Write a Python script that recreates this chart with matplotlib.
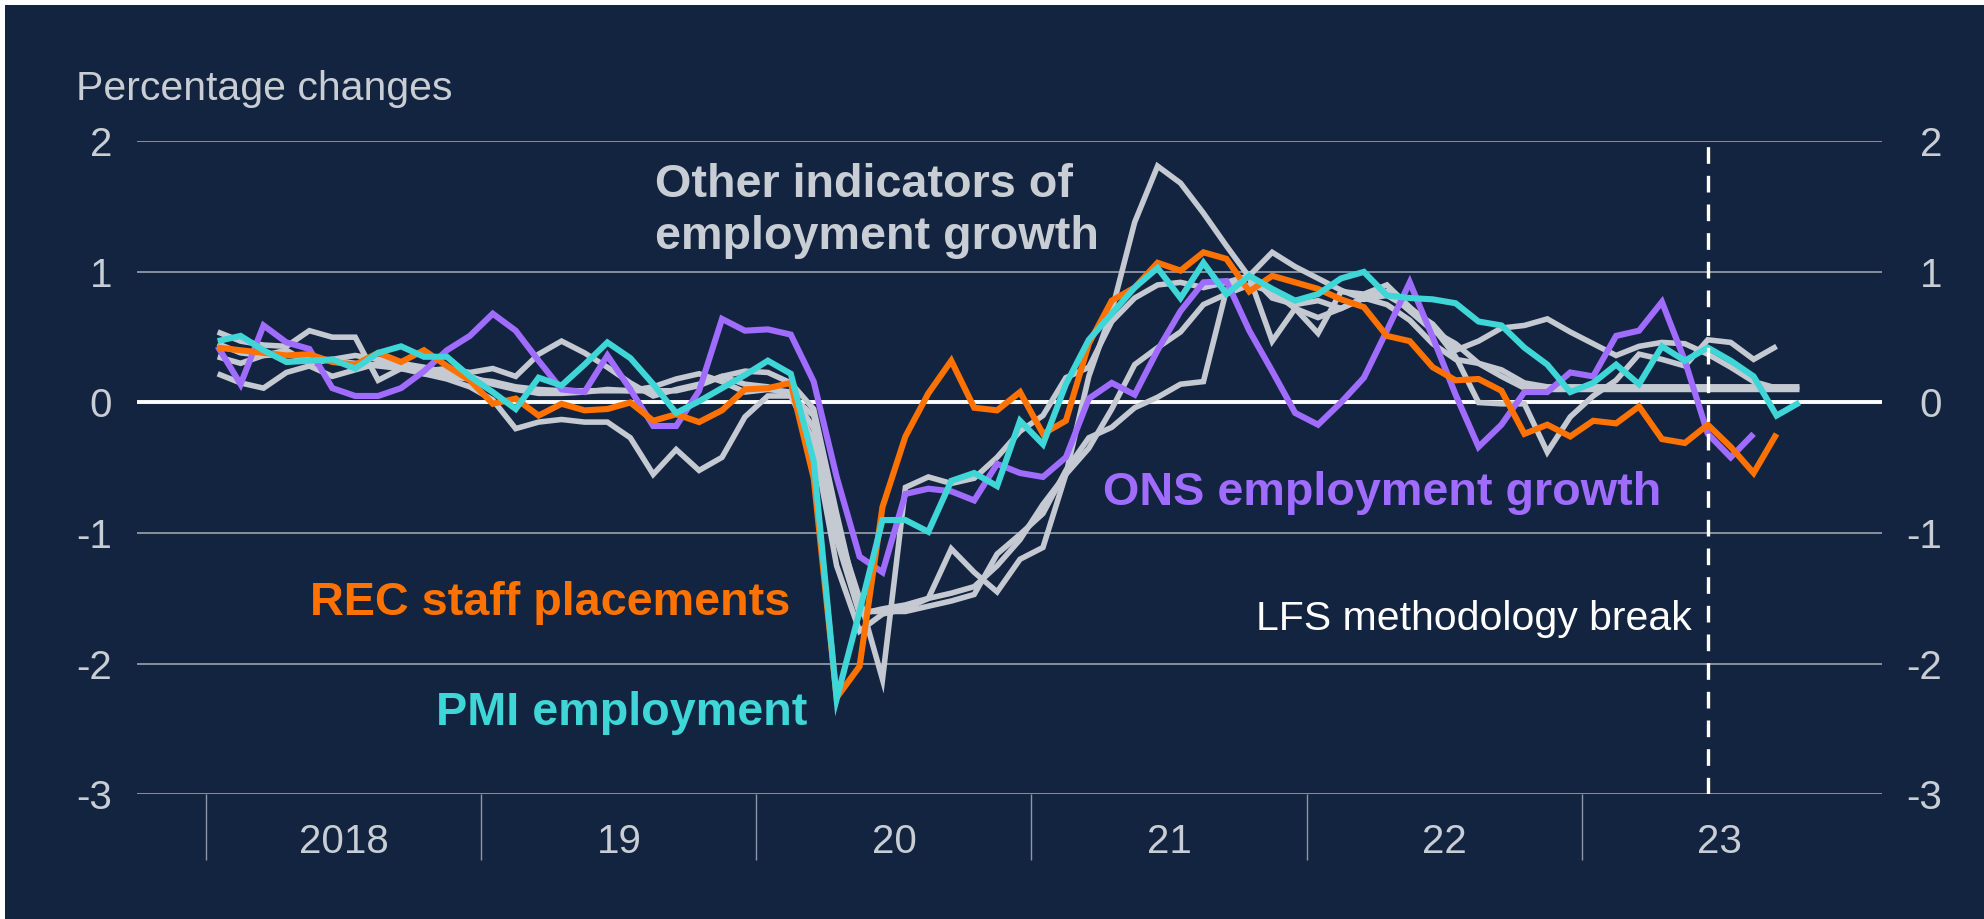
import numpy as np
import pandas as pd
import matplotlib
matplotlib.use("Agg")
import matplotlib.pyplot as plt
from matplotlib.patches import Rectangle

plt.rcParams['font.family'] = ['Liberation Sans', 'DejaVu Sans']

# ---------------- data ----------------
months = pd.period_range('2018-01', '2023-10', freq='M')
nan = np.nan

rec_staff_placements = [
    0.42, 0.40, 0.38, 0.36, 0.37, 0.31, 0.29, 0.38, 0.31, 0.40, 0.28, 0.17,
    -0.01, 0.03, -0.10, -0.01, -0.06, -0.05, 0.00, -0.14, -0.09, -0.15, -0.06, 0.10,
    0.11, 0.15, -0.58, -2.26, -2.02, -0.80, -0.26, 0.07, 0.32, -0.04, -0.06, 0.08,
    -0.24, -0.14, 0.45, 0.78, 0.88, 1.07, 1.01, 1.15, 1.10, 0.85, 0.97, 0.92,
    0.87, 0.79, 0.73, 0.51, 0.47, 0.27, 0.17, 0.18, 0.09, -0.24, -0.17, -0.26,
    -0.14, -0.16, -0.03, -0.28, -0.31, -0.17, -0.34, -0.54, -0.24, nan]

pmi_employment = [
    0.47, 0.51, 0.40, 0.31, 0.32, 0.33, 0.26, 0.38, 0.43, 0.35, 0.35, 0.20,
    0.08, -0.05, 0.19, 0.13, 0.29, 0.46, 0.34, 0.14, -0.08, 0.01, 0.11, 0.21,
    0.32, 0.22, -0.45, -2.27, -1.60, -0.90, -0.90, -0.99, -0.60, -0.54, -0.64, -0.14,
    -0.32, 0.14, 0.48, 0.68, 0.88, 1.03, 0.80, 1.07, 0.83, 0.97, 0.87, 0.78,
    0.83, 0.95, 1.00, 0.82, 0.80, 0.79, 0.76, 0.62, 0.59, 0.42, 0.29, 0.08,
    0.15, 0.29, 0.14, 0.43, 0.32, 0.42, 0.32, 0.20, -0.10, 0.00]

ons_employment_growth = [
    0.43, 0.14, 0.59, 0.46, 0.41, 0.11, 0.05, 0.05, 0.11, 0.24, 0.40, 0.51,
    0.68, 0.55, 0.32, 0.10, 0.08, 0.36, 0.10, -0.18, -0.18, 0.09, 0.64, 0.55,
    0.56, 0.52, 0.16, -0.57, -1.18, -1.30, -0.70, -0.66, -0.68, -0.75, -0.47, -0.54,
    -0.57, -0.42, 0.03, 0.15, 0.06, 0.40, 0.70, 0.92, 0.93, 0.55, 0.24, -0.08,
    -0.17, 0.00, 0.19, 0.55, 0.92, 0.50, 0.06, -0.34, -0.17, 0.08, 0.08, 0.23,
    0.20, 0.51, 0.55, 0.77, 0.32, -0.24, -0.42, -0.24, nan, nan]

other_indicator_1 = [
    0.54, 0.47, 0.44, 0.43, 0.55, 0.50, 0.50, 0.17, 0.26, 0.24, 0.26, 0.23,
    0.26, 0.20, 0.37, 0.47, 0.38, 0.27, 0.15, 0.05, 0.10, 0.14, 0.20, 0.14,
    0.12, 0.05, -0.30, -1.25, -1.75, -1.62, -1.58, -1.50, -1.12, -1.30, -1.45, -1.20,
    -1.11, -0.55, 0.20, 0.70, 1.38, 1.81, 1.68, 1.45, 1.20, 0.96, 0.47, 0.72,
    0.53, 0.85, 0.83, 0.90, 0.73, 0.58, 0.35, 0.00, -0.01, -0.01, -0.38, -0.11,
    0.05, 0.17, 0.37, 0.33, 0.28, 0.48, 0.46, 0.33, 0.43, nan]

other_indicator_2 = [
    0.45, 0.38, 0.36, 0.37, 0.33, 0.32, 0.30, 0.28, 0.26, 0.22, 0.20, 0.18,
    0.16, 0.12, 0.10, 0.09, 0.09, 0.09, 0.09, 0.09, 0.09, 0.13, 0.20, 0.24,
    0.23, 0.15, -0.05, -0.85, -1.60, -1.60, -1.60, -1.56, -1.52, -1.47, -1.16, -1.01,
    -0.85, -0.52, -0.27, -0.19, -0.04, 0.04, 0.14, 0.16, 0.86, 0.98, 0.80, 0.75,
    0.78, 0.72, 0.80, 0.85, 0.70, 0.55, 0.45, 0.30, 0.20, 0.11, 0.10, 0.10,
    0.10, 0.10, 0.10, 0.10, 0.10, 0.10, 0.10, 0.10, 0.10, 0.10]

other_indicator_3 = [
    0.22, 0.15, 0.11, 0.23, 0.28, 0.20, 0.25, 0.30, 0.27, 0.22, 0.18, 0.12,
    0.02, -0.20, -0.15, -0.13, -0.15, -0.15, -0.27, -0.55, -0.36, -0.52, -0.42, -0.11,
    0.05, 0.05, -0.10, -0.95, -1.50, -2.12, -0.65, -0.57, -0.62, -0.58, -0.42, -0.22,
    -0.10, 0.19, 0.27, 0.62, 0.80, 0.90, 0.92, 0.88, 0.92, 0.97, 1.15, 1.04,
    0.95, 0.86, 0.79, 0.82, 0.72, 0.60, 0.40, 0.47, 0.57, 0.59, 0.64, 0.54,
    0.45, 0.36, 0.43, 0.46, 0.45, 0.37, 0.27, 0.16, 0.11, nan]

other_indicator_4 = [
    0.35, 0.30, 0.36, 0.40, 0.30, 0.33, 0.36, 0.33, 0.30, 0.27, 0.23, 0.20,
    0.14, 0.10, 0.07, 0.07, 0.08, 0.10, 0.09, 0.12, 0.18, 0.22, 0.16, 0.08,
    0.10, 0.08, -0.20, -1.05, -1.62, -1.58, -1.55, -1.50, -1.46, -1.41, -1.25, -1.05,
    -0.78, -0.55, -0.35, -0.05, 0.29, 0.42, 0.54, 0.75, 0.83, 0.90, 0.85, 0.72,
    0.65, 0.72, 0.80, 0.75, 0.63, 0.45, 0.33, 0.30, 0.25, 0.15, 0.12, 0.12,
    0.12, 0.12, 0.12, 0.12, 0.12, 0.12, 0.12, 0.12, 0.12, 0.12]

year_ticks = [2018, 2019, 2020, 2021, 2022, 2023]
year_labels = ['2018', '19', '20', '21', '22', '23']
y_ticks = [-3, -2, -1, 0, 1, 2]
y_labels = ['-3', '-2', '-1', '0', '1', '2']
lfs_break = pd.Period('2023-06', freq='M')

# ---------------- style ----------------
NAVY = '#132441'
GRAY = '#c5cad2'
GRAY_TXT = '#c9cdd4'
GRID = '#a7aeb9'
ORANGE = '#ff7200'
CYAN = '#3ed6d6'
PURPLE = '#a06cff'

W, H = 1984, 919
fig = plt.figure(figsize=(W / 100, H / 100), dpi=100)
fig.patch.set_facecolor('white')
fig.add_artist(Rectangle((5 / W, 0), 1 - 5 / W, 1 - 5 / H, transform=fig.transFigure,
                         facecolor=NAVY, edgecolor='none', zorder=-10))

ax_l, ax_r = 136.7 / W, 1881.5 / W
ax_t, ax_b = 1 - 141.3 / H, 1 - 794.3 / H
ax = fig.add_axes([ax_l, ax_b, ax_r - ax_l, ax_t - ax_b])
ax.set_facecolor(NAVY)

x = months.year + (months.month - 0.5) / 12.0

kw = dict(solid_joinstyle='miter', solid_capstyle='butt')
for g in [other_indicator_1, other_indicator_2, other_indicator_3, other_indicator_4]:
    ax.plot(x, g, color=GRAY, lw=4.0, zorder=3, **kw)
ax.plot(x, ons_employment_growth, color=PURPLE, lw=4.4, zorder=4, **kw)
ax.plot(x, rec_staff_placements, color=ORANGE, lw=4.4, zorder=5, **kw)
ax.plot(x, pmi_employment, color=CYAN, lw=4.4, zorder=6, **kw)

ax.set_ylim(-3, 2)
ax.set_xlim(2018 - (206.2 - 136.7) / 275.1, 2018 + (1881.5 - 206.2) / 275.1)

for s in ax.spines.values():
    s.set_visible(False)

ax.set_yticks(y_ticks)
ax.set_yticklabels(y_labels)
ax.grid(True, axis='y', color=GRID, lw=1.1, zorder=1)
ax.axhline(0, color='white', lw=2.8, zorder=2)
ax.tick_params(axis='y', length=0, pad=17.8, labelsize=29, labelcolor=GRAY_TXT)

ax2 = ax.twinx()
ax2.set_ylim(-3, 2)
ax2.set_yticks(y_ticks)
ax2.set_yticklabels(y_labels)
for s in ax2.spines.values():
    s.set_visible(False)
ax2.tick_params(axis='y', length=0, pad=43.6, labelsize=29, labelcolor=GRAY_TXT)
for lab in ax2.get_yticklabels():
    lab.set_horizontalalignment('right')

ax.set_xticks(year_ticks)
ax.set_xticklabels([''] * len(year_ticks))
ax.set_xticks([y + 0.5 for y in year_ticks], minor=True)
ax.set_xticklabels(year_labels, minor=True)
ax.tick_params(axis='x', which='major', length=47.5, width=1.0, color='#8e97a6', direction='out')
ax.tick_params(axis='x', which='minor', length=0, pad=21, labelsize=29, labelcolor=GRAY_TXT)

xb = lfs_break.year + (lfs_break.month - 0.5) / 12.0
ax.axvline(xb, color='white', lw=2.4, dashes=(5.0, 3.6), zorder=7)

BOLD = 33.7
ax.text(2023.401, -1.743, 'LFS methodology break', color='white', fontsize=29.5,
        ha='right', va='baseline', zorder=8)
ax.text(2019.631, 1.572, 'Other indicators of', color=GRAY_TXT, fontsize=BOLD,
        fontweight='bold', ha='left', va='baseline', zorder=8)
ax.text(2019.631, 1.172, 'employment growth', color=GRAY_TXT, fontsize=BOLD,
        fontweight='bold', ha='left', va='baseline', zorder=8)
ax.text(2021.26, -0.786, 'ONS employment growth', color=PURPLE, fontsize=BOLD,
        fontweight='bold', ha='left', va='baseline', zorder=8)
ax.text(2018.377, -1.629, 'REC staff placements', color=ORANGE, fontsize=BOLD,
        fontweight='bold', ha='left', va='baseline', zorder=8)
ax.text(2018.835, -2.471, 'PMI employment', color=CYAN, fontsize=BOLD,
        fontweight='bold', ha='left', va='baseline', zorder=8)

fig.text(76.5 / W, 1 - 100 / H, 'Percentage changes', color=GRAY_TXT, fontsize=29.5,
         ha='left', va='baseline')

fig.savefig('out.png', dpi=100, facecolor=fig.get_facecolor())
